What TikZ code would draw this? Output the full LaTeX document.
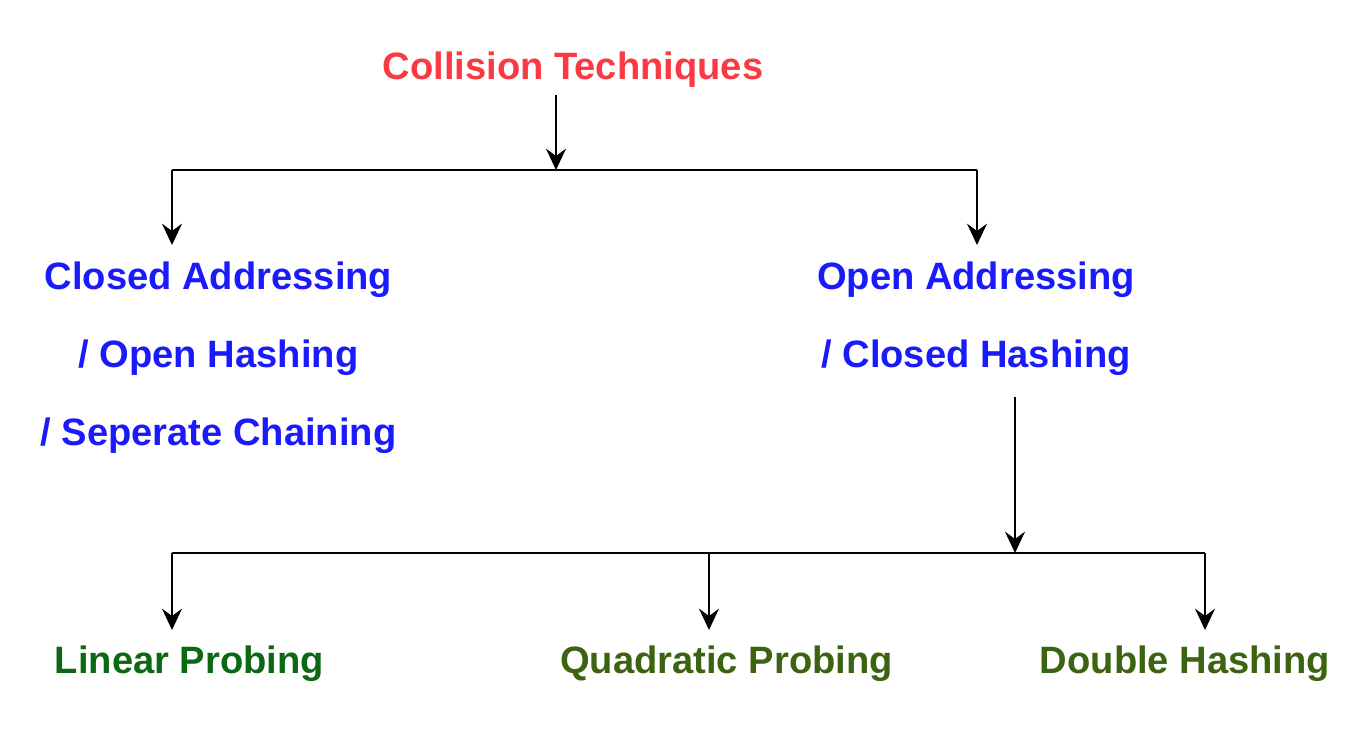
\documentclass[tikz,border=0pt]{standalone}
\usepackage{fontspec}
\setmainfont{Liberation Sans}
\usetikzlibrary{arrows.meta}
\definecolor{tred}{RGB}{250,58,66}
\definecolor{tblue}{RGB}{26,26,250}
\definecolor{tgreen}{RGB}{12,104,18}
\definecolor{tolive}{RGB}{60,100,16}
\begin{document}
\begin{tikzpicture}[x=0.75pt,y=-0.75pt,
  lbl/.style={anchor=base,inner sep=0pt,font=\fontsize{28.6}{34}\selectfont\bfseries},
  conn/.style={line width=1.2pt,draw=black},
  arr/.style={conn,-{Stealth[length=16pt,width=15pt,inset=5.5pt]}}]
\useasboundingbox (0,0) rectangle (1370,744);
% texts
\node[lbl,text=tred] (title) at (573,79) {Collision Techniques};
\node[lbl,text=tblue] (ca1) at (218.5,289) {Closed Addressing};
\node[lbl,text=tblue] (ca2) at (218.5,367) {/ Open Hashing};
\node[lbl,text=tblue] (ca3) at (218.5,445) {/ Seperate Chaining};
\node[lbl,text=tblue] (oa1) at (976,289) {Open Addressing};
\node[lbl,text=tblue] (oa2) at (976,367) {/ Closed Hashing};
\node[lbl,text=tgreen] (lp) at (189.5,673) {Linear Probing};
\node[lbl,text=tolive] (qp) at (726.5,673) {Quadratic Probing};
\node[lbl,text=tolive] (dh) at (1185,673) {Double Hashing};
% junction coordinates
\coordinate (t0) at (556,95);
\coordinate (j1) at (556,170);
\coordinate (jl) at (172,170);
\coordinate (jr) at (977,170);
\coordinate (cal) at (172,245);
\coordinate (oar) at (977,245);
\coordinate (o0) at (1015,397);
\coordinate (j2) at (1015,553);
\coordinate (kl) at (172,553);
\coordinate (km) at (709,553);
\coordinate (kr) at (1205,553);
\coordinate (lpt) at (172,630);
\coordinate (qpt) at (709,630);
\coordinate (dht) at (1205,630);
% connectors
\draw[arr] (t0) -- (j1);
\draw[conn] (jl) -- (jr);
\draw[arr] (jl) -- (cal);
\draw[arr] (jr) -- (oar);
\draw[arr] (o0) -- (j2);
\draw[conn] (kl) -- (kr);
\draw[arr] (kl) -- (lpt);
\draw[arr] (km) -- (qpt);
\draw[arr] (kr) -- (dht);
\end{tikzpicture}
\end{document}
